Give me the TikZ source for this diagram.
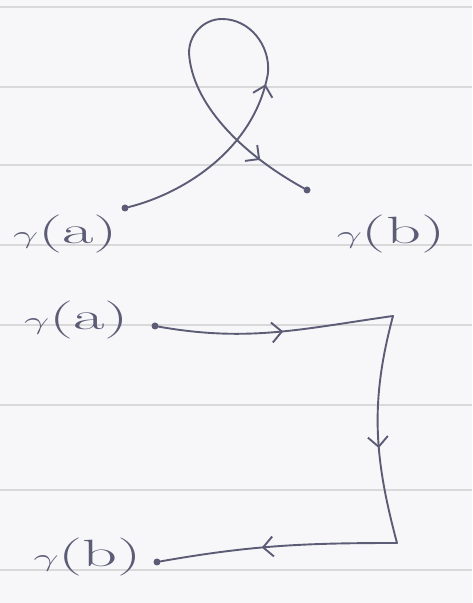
\documentclass[tikz,border=0pt]{standalone}
\usepackage{amsmath}
\usetikzlibrary{arrows.meta,positioning,decorations.markings}
\definecolor{lead}{RGB}{92,92,118}
\definecolor{paper}{RGB}{247,247,249}
\newcommand{\gammaat}[1]{\scalebox{1.8}[1]{$\gamma$(#1)}}

\begin{document}
\begin{tikzpicture}[
  x=1pt,y=1pt,
  pencil/.style={line width=1.9pt,draw=lead,line cap=round},
  dot/.style={circle,fill=lead,inner sep=0pt,minimum size=7pt},
  lbl/.style={inner sep=0pt,text=lead,font=\fontsize{38}{40}\selectfont},
  rule/.style={draw=gray!30,line width=1.2pt},
  barb/.tip={Straight Barb[length=10pt,width=20pt]},
  mid/.style={postaction={decorate,decoration={markings,mark=at position #1 with {\arrow{barb}}}}}
]
\useasboundingbox (0,0) rectangle (472,603);
\fill[paper] (0,0) rectangle (472,603);
% ruled paper
\foreach \y in {596,516,438,358,278,198,113,33}
  \draw[rule] (0,\y) -- (472,\y);

% curve with a loop
\node[dot] (a1) at (125,395) {};
\node[dot] (b1) at (307,413) {};
\coordinate (r) at (268,530);
\coordinate (t) at (222,584);
\coordinate (l) at (189,550);
\node[lbl,below left=4pt and 4pt of a1] (la1) {\gammaat{a}};
\node[lbl,below right=22pt and 27pt of b1] (lb1) {\gammaat{b}};
\draw[pencil,mid=0.37,mid=0.9] (a1) .. controls (185,410) and (255,455) .. (r)
  to[out=85,in=0] (t) to[out=180,in=90] (l)
  .. controls (192,500) and (240,450) .. (b1);

% curve round three sides
\node[dot] (a2) at (155,277) {};
\coordinate (c1) at (393,287);
\coordinate (c2) at (397,60);
\node[dot] (b2) at (157,41) {};
\node[lbl,left=22pt of a2,yshift=6pt] (la2) {\gammaat{a}};
\node[lbl,left=11pt of b2,yshift=5pt] (lb2) {\gammaat{b}};
\draw[pencil,mid=0.53] (a2) to[out=-10,in=188] (c1);
\draw[pencil,mid=0.58] (c1) to[out=-105,in=105] (c2);
\draw[pencil,mid=0.57] (c2) to[out=180,in=10] (b2);
\end{tikzpicture}
\end{document}
